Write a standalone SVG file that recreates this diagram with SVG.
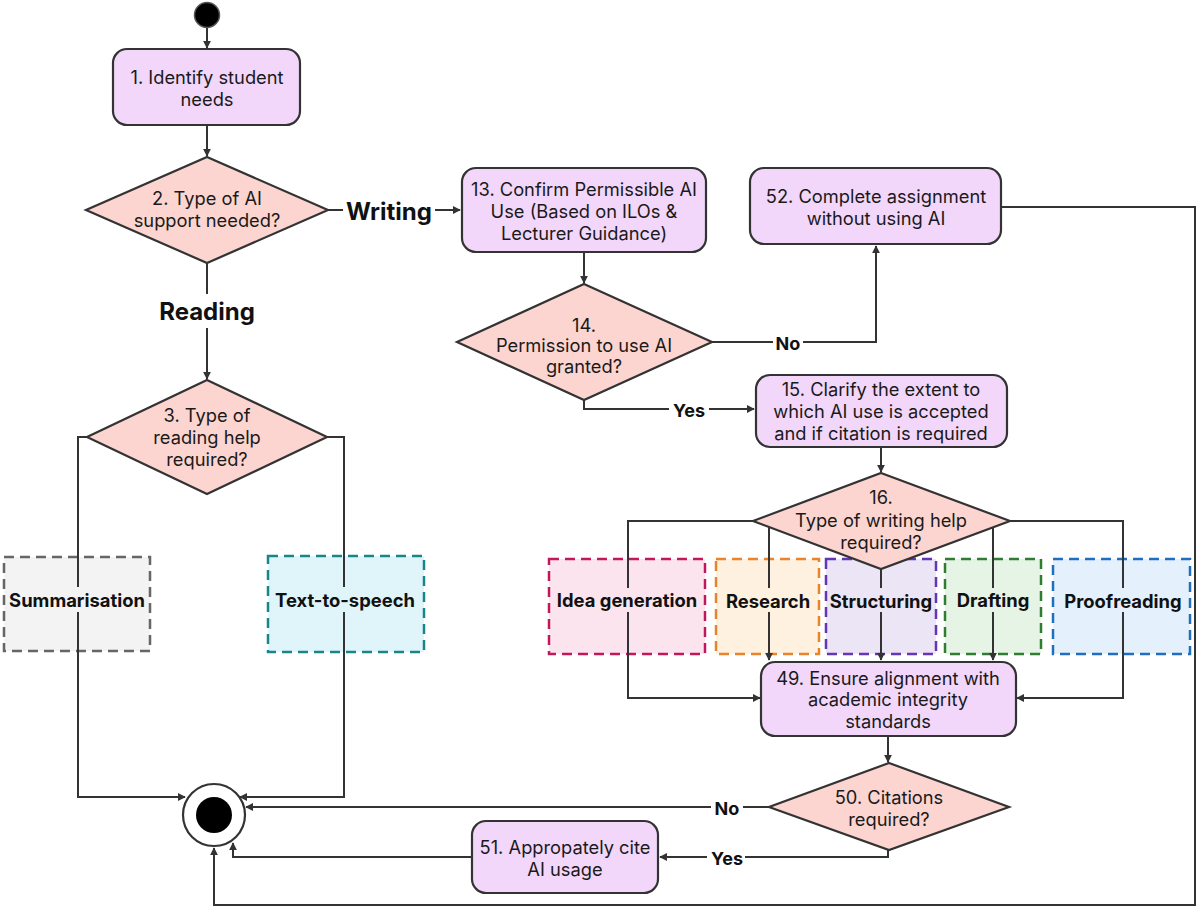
<svg xmlns="http://www.w3.org/2000/svg" width="1200" height="911" viewBox="0 0 1200 911">
<defs>
<marker id="arr" viewBox="0 0 10 10" refX="9" refY="5" markerWidth="8" markerHeight="8" markerUnits="userSpaceOnUse" orient="auto">
<path d="M0,0 L10,5 L0,10 z" fill="#333"/>
</marker>
<style>
.node{fill:#f2d7fb;stroke:#333;stroke-width:2.2}
.dia{fill:#fcd5d0;stroke:#333;stroke-width:2.2}
.t{font-family:Inter,"Liberation Sans",sans-serif;font-size:18.3px;fill:#1a1a1a;text-anchor:middle;dominant-baseline:central}
.b{font-family:Inter,"Liberation Sans",sans-serif;font-weight:bold;font-size:18.4px;fill:#111;text-anchor:middle;dominant-baseline:central}
.big{font-size:24px}
.lbl{font-size:18px}
.cat{stroke-width:2.5;stroke-dasharray:10 6}
.conn path{fill:none;stroke:#333;stroke-width:2;marker-end:url(#arr)}
</style>
</defs>
<rect width="1200" height="911" fill="#fff"/>

<g id="categories">
<g id="cat-summarisation"><rect class="cat" x="4" y="557" width="146" height="94" fill="#f3f3f3" stroke="#666"/></g>
<g id="cat-tts"><rect class="cat" x="268" y="556" width="156" height="96" fill="#dff5fa" stroke="#18848c"/></g>
<g id="cat-idea"><rect class="cat" x="549" y="559" width="156" height="95" fill="#fbe4ee" stroke="#c2185b"/></g>
<g id="cat-research"><rect class="cat" x="716" y="559" width="103" height="95" fill="#fef1df" stroke="#e8842a"/></g>
<g id="cat-structuring"><rect class="cat" x="826" y="559" width="110" height="95" fill="#ece5f5" stroke="#6236b5"/></g>
<g id="cat-drafting"><rect class="cat" x="945" y="559" width="96" height="95" fill="#e6f4e6" stroke="#2e7d32"/></g>
<g id="cat-proofreading"><rect class="cat" x="1053" y="559" width="137" height="95" fill="#e4f0fb" stroke="#1f6fc0"/></g>
</g>

<g id="connectors" class="conn">
<path d="M207,28 L207,48"/>
<path d="M207,125 L207,156"/>
<path d="M328,210 L343,210 M435,210 L460,210"/>
<path d="M207,263 L207,294 M207,328 L207,379"/>
<path d="M87,437 L78,437 L78,587 M78,612 L78,797 L185,797"/>
<path d="M327,437 L344,437 L344,587 M344,612 L344,797 L240,797"/>
<path d="M584,252 L584,283"/>
<path d="M712,342 L773,342 M803,342 L876,342 L876,246"/>
<path d="M584,399 L584,409 L669,409 M709,409 L754,409"/>
<path d="M881,447 L881,472"/>
<path d="M753,521 L628,521 L628,588 M628,612 L628,698 L760,698"/>
<path d="M769,527 L769,588 M769,612 L769,660"/>
<path d="M881,569 L881,588 M881,612 L881,660"/>
<path d="M993,527 L993,588 M993,612 L993,660"/>
<path d="M1010,521 L1123,521 L1123,588 M1123,612 L1123,698 L1017,698"/>
<path d="M888,736 L888,762"/>
<path d="M769,807 L743,807 M711,807 L246,807"/>
<path d="M888,850 L888,857 L745,857 M707,857 L660,857"/>
<path d="M472,857 L233,857 L233,843"/>
<path d="M1001,207 L1195,207 L1195,905 L214,905 L214,848"/>
</g>

<g id="connector-labels">
<text class="b big" x="389" y="211">Writing</text>
<text class="b big" x="207" y="311">Reading</text>
<text class="b" x="77" y="600">Summarisation</text>
<text class="b" x="345" y="600">Text-to-speech</text>
<text class="b" x="627" y="600">Idea generation</text>
<text class="b" x="768" y="601">Research</text>
<text class="b" x="881" y="601">Structuring</text>
<text class="b" x="993" y="600">Drafting</text>
<text class="b" x="1123" y="601">Proofreading</text>
<text class="b lbl" x="788" y="343">No</text>
<text class="b lbl" x="689" y="410">Yes</text>
<text class="b lbl" x="727" y="808">No</text>
<text class="b lbl" x="727" y="858">Yes</text>
</g>

<g id="start"><circle cx="207" cy="15" r="12.5" fill="#000" stroke="#555" stroke-width="1.5"/></g>

<g id="n1"><rect class="node" x="113" y="49" width="187" height="76" rx="14"/>
<text class="t" x="207" y="77">1. Identify student</text><text class="t" x="207" y="99">needs</text></g>

<g id="n2"><polygon class="dia" points="207,157 328,210 207,263 86,210"/>
<text class="t" x="207" y="198">2. Type of AI</text><text class="t" x="207" y="220">support needed?</text></g>

<g id="n3"><polygon class="dia" points="207,380 327,437 207,494 87,437"/>
<text class="t" x="207" y="415">3. Type of</text><text class="t" x="207" y="437">reading help</text><text class="t" x="207" y="459">required?</text></g>

<g id="n13"><rect class="node" x="462" y="168" width="244" height="84" rx="14"/>
<text class="t" x="584" y="189">13. Confirm Permissible AI</text><text class="t" x="584" y="211">Use (Based on ILOs &amp;</text><text class="t" x="584" y="233">Lecturer Guidance)</text></g>

<g id="n14"><polygon class="dia" points="584,284 712,342 584,400 457,342"/>
<text class="t" x="584" y="325">14.</text><text class="t" x="584" y="345">Permission to use AI</text><text class="t" x="584" y="366">granted?</text></g>

<g id="n52"><rect class="node" x="750" y="168" width="251" height="76" rx="14"/>
<text class="t" x="876" y="196">52. Complete assignment</text><text class="t" x="876" y="218">without using AI</text></g>

<g id="n15"><rect class="node" x="756" y="375" width="251" height="72" rx="14"/>
<text class="t" x="881" y="389">15. Clarify the extent to</text><text class="t" x="881" y="411">which AI use is accepted</text><text class="t" x="881" y="433">and if citation is required</text></g>

<g id="n16"><polygon class="dia" points="881,473 1010,521 881,569 753,521"/>
<text class="t" x="881" y="497">16.</text><text class="t" x="881" y="520">Type of writing help</text><text class="t" x="881" y="542">required?</text></g>

<g id="n49"><rect class="node" x="761" y="662" width="255" height="74" rx="14"/>
<text class="t" x="888" y="678">49. Ensure alignment with</text><text class="t" x="888" y="699">academic integrity</text><text class="t" x="888" y="721">standards</text></g>

<g id="n50"><polygon class="dia" points="889,763 1009,807 889,850 769,807"/>
<text class="t" x="889" y="797">50. Citations</text><text class="t" x="889" y="819">required?</text></g>

<g id="n51"><rect class="node" x="472" y="821" width="186" height="72" rx="14"/>
<text class="t" x="565" y="847">51. Appropately cite</text><text class="t" x="565" y="869">AI usage</text></g>

<g id="end"><circle cx="214" cy="815" r="31" fill="#fff" stroke="#333" stroke-width="2.2"/><circle cx="214" cy="815" r="18" fill="#000"/></g>
</svg>
